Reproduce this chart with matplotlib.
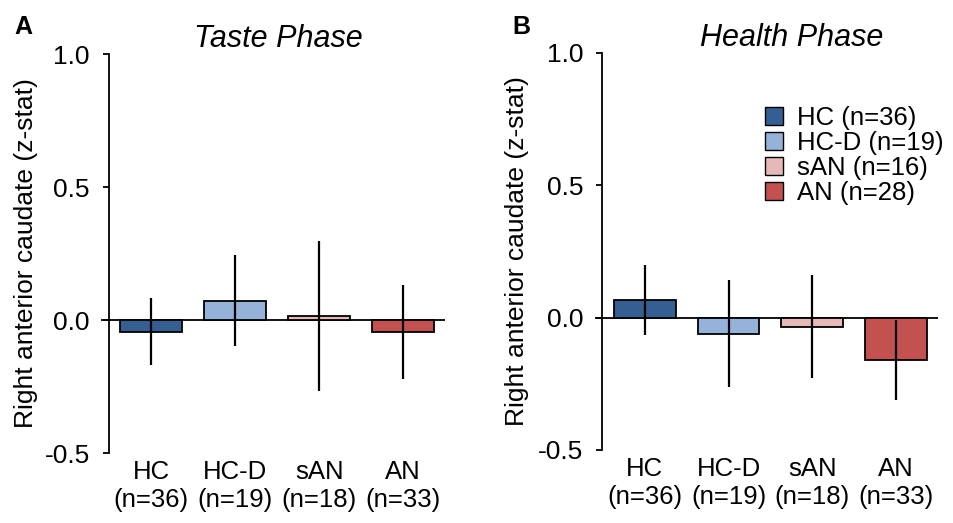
import numpy as np
import matplotlib
matplotlib.use("Agg")
import matplotlib.pyplot as plt
from matplotlib.patches import Patch

# -------------------------
# Data
# -------------------------

groups = ["HC", "HC-D", "sAN", "AN"]
tick_labels = ["HC\n(n=36)", "HC-D\n(n=19)", "sAN\n(n=18)", "AN\n(n=33)"]
legend_labels = ["HC (n=36)", "HC-D (n=19)", "sAN (n=16)", "AN (n=28)"]

taste_mean = [-0.044, 0.073, 0.016, -0.045]
taste_err = [0.125, 0.170, 0.282, 0.176]

health_mean = [0.068, -0.060, -0.034, -0.160]
health_err = [0.132, 0.202, 0.194, 0.150]

colors = ["#355e92", "#95b3d8", "#e6b8b8", "#c25150"]

plt.rcParams["font.family"] = ["Liberation Sans", "DejaVu Sans"]

# -------------------------
# Figure
# -------------------------

fig = plt.figure(figsize=(9.54, 5.23), dpi=100)

axA = fig.add_axes([0.1059, 0.1338, 0.3606, 0.7629])
axB = fig.add_axes([0.6233, 0.1396, 0.3596, 0.7591])


def draw_panel(ax, means, errs, title, title_x, label_x):
    x = np.arange(len(groups))
    ax.bar(x, means, width=0.74, color=colors, edgecolor="black",
           linewidth=1.3, zorder=2)
    ax.errorbar(x, means, yerr=errs, fmt="none", ecolor="black",
                elinewidth=1.6, capsize=0, zorder=3)
    ax.axhline(0, color="black", linewidth=1.3, zorder=1)

    ax.set_xlim(-0.6, 3.5)
    ax.set_ylim(-0.5, 1.0)
    ax.set_yticks([-0.5, 0.0, 0.5, 1.0])
    ax.set_yticklabels(["-0.5", "0.0", "0.5", "1.0"])
    ax.set_xticks(x)
    ax.set_xticklabels(tick_labels)

    for s in ["top", "right", "bottom"]:
        ax.spines[s].set_visible(False)
    ax.spines["left"].set_position(("data", -0.51))
    ax.spines["left"].set_linewidth(1.3)

    ax.tick_params(axis="y", length=4.5, width=1.3, pad=9, labelsize=19)
    ax.tick_params(axis="x", length=0, pad=5, labelsize=18.5)

    ax.set_ylabel("Right anterior caudate (z-stat)", fontsize=19)
    ax.yaxis.set_label_coords(label_x, 0.5)

    ax.text(title_x, 1.0, title, transform=ax.transAxes, ha="center",
            va="bottom", fontsize=22, style="italic")


draw_panel(axA, taste_mean, taste_err, "Taste Phase", 0.515, -0.183)
draw_panel(axB, health_mean, health_err, "Health Phase", 0.574, -0.19)

# legend
handles = [Patch(facecolor=c, edgecolor="black", linewidth=1.0) for c in colors]
axB.legend(handles, legend_labels, loc="upper left",
           bbox_to_anchor=(0.496, 0.866), frameon=False, fontsize=18.5,
           handlelength=0.72, handleheight=0.72, handletextpad=0.55,
           labelspacing=0.04, borderaxespad=0, borderpad=0)

# panel letters
fig.text(0.015, 0.948, "A", fontsize=18, fontweight="bold", va="center")
fig.text(0.537, 0.948, "B", fontsize=18, fontweight="bold", va="center")

plt.savefig("out.png", dpi=100)
plt.close()
